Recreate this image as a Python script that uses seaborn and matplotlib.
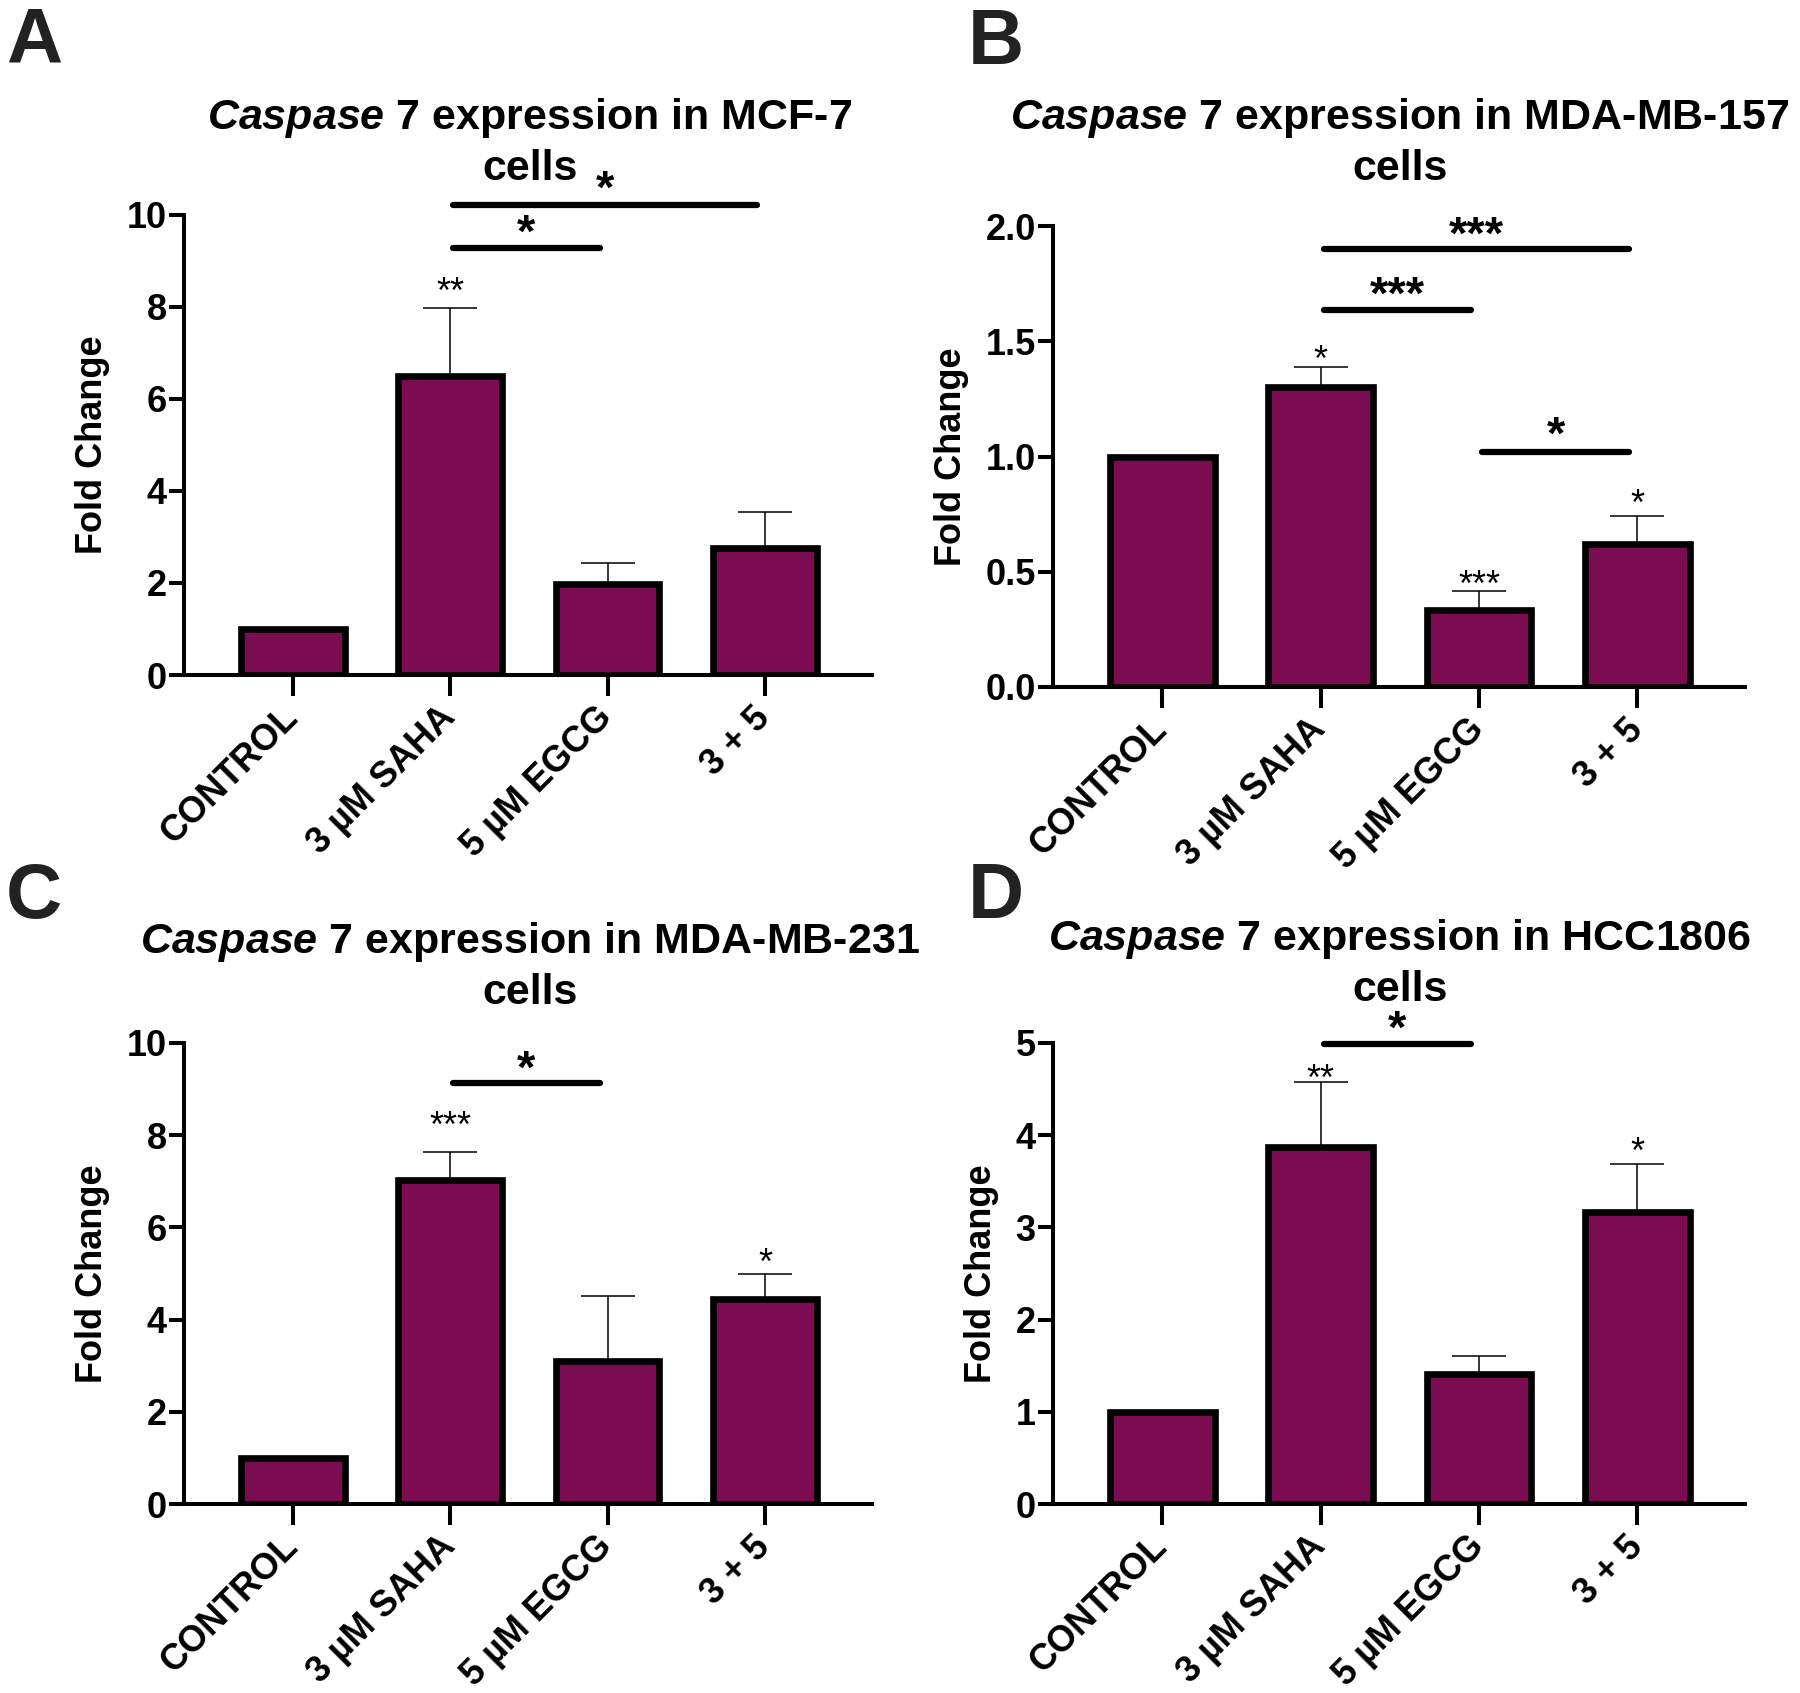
import numpy as np
import pandas as pd
import matplotlib
matplotlib.use("Agg")
import matplotlib.pyplot as plt
from matplotlib.ticker import FormatStrFormatter, MultipleLocator
import seaborn as sns

sns.set_theme(style="ticks")
plt.rcParams["font.family"] = ["Liberation Sans", "DejaVu Sans"]
plt.rcParams["font.weight"] = "bold"
plt.rcParams["mathtext.fontset"] = "custom"
plt.rcParams["mathtext.it"] = "Liberation Sans:italic:bold"
plt.rcParams["mathtext.rm"] = "Liberation Sans:bold"
plt.rcParams["mathtext.bf"] = "Liberation Sans:bold"

# ---------------- data ----------------
categories = ["CONTROL", "3 µM SAHA", "5 µM EGCG", "3 + 5"]

cells_A = "MCF-7"
means_A = [1.0, 6.50, 1.98, 2.76]
err_A = [0.0, 1.48, 0.46, 0.78]
stars_A = [(1, 8.53, "**")]
brackets_A = [(1, 2, 9.28, 9.80, "*"), (1, 3, 10.22, 10.75, "*")]

cells_B = "MDA-MB-157"
means_B = [1.0, 1.30, 0.335, 0.62]
err_B = [0.0, 0.09, 0.08, 0.12]
stars_B = [(1, 1.46, "*"), (2, 0.485, "***"), (3, 0.835, "*")]
brackets_B = [(1, 2, 1.636, 1.74, "***"), (1, 3, 1.90, 2.0, "***"), (2, 3, 1.02, 1.13, "*")]

cells_C = "MDA-MB-231"
means_C = [1.0, 7.02, 3.10, 4.45]
err_C = [0.0, 0.62, 1.42, 0.55]
stars_C = [(1, 8.40, "***"), (3, 5.44, "*")]
brackets_C = [(1, 2, 9.13, 9.63, "*")]

cells_D = "HCC1806"
means_D = [1.0, 3.87, 1.41, 3.17]
err_D = [0.0, 0.71, 0.19, 0.52]
stars_D = [(1, 4.71, "**"), (3, 3.92, "*")]
brackets_D = [(1, 2, 4.99, 5.24, "*")]

BAR = "#7B0C52"
W, H = 1800, 1693

fig = plt.figure(figsize=(W / 100, H / 100), dpi=100)


def px_rect(x0, x1, ytop, ybot):
    return [x0 / W, 1 - ybot / H, (x1 - x0) / W, (ybot - ytop) / H]


panels = [
    dict(letter="A", cells=cells_A, means=means_A, err=err_A, stars=stars_A, br=brackets_A,
         rect=px_rect(184, 872, 215, 675), ylim=10, step=2, fmt="%d",
         letter_xy=(6, 63), t1=118, t2=169, cx=530),
    dict(letter="B", cells=cells_B, means=means_B, err=err_B, stars=stars_B, br=brackets_B,
         rect=px_rect(1053, 1745, 226, 687), ylim=2.0, step=0.5, fmt="%.1f",
         letter_xy=(968, 64), t1=118, t2=169, cx=1400),
    dict(letter="C", cells=cells_C, means=means_C, err=err_C, stars=stars_C, br=brackets_C,
         rect=px_rect(184, 872, 1043, 1504), ylim=10, step=2, fmt="%d",
         letter_xy=(6, 918), t1=942, t2=993, cx=530),
    dict(letter="D", cells=cells_D, means=means_D, err=err_D, stars=stars_D, br=brackets_D,
         rect=px_rect(1053, 1745, 1043, 1504), ylim=5, step=1, fmt="%d",
         letter_xy=(968, 918), t1=939, t2=990, cx=1400),
]

SPINE_LW = 2.9
BIG = 34
SMALL = 26

for p in panels:
    ax = fig.add_axes(p["rect"])
    df = pd.DataFrame({"group": categories, "value": p["means"]})
    sns.barplot(data=df, x="group", y="value", ax=ax, color=BAR, saturation=1,
                edgecolor="black", linewidth=4.8, width=0.66, errorbar=None, zorder=3)
    idx = np.arange(len(categories))
    m = np.array(p["means"])
    e = np.array(p["err"])
    has = e > 0
    ax.errorbar(idx[has], m[has], yerr=[np.zeros(has.sum()), e[has]], fmt="none",
                ecolor="black", elinewidth=1.1, capsize=19.5, capthick=1.1, zorder=2)

    ax.set_xlim(-0.69, 3.68)
    ax.set_ylim(0, p["ylim"])
    ax.yaxis.set_major_locator(MultipleLocator(p["step"]))
    ax.yaxis.set_major_formatter(FormatStrFormatter(p["fmt"]))
    sns.despine(ax=ax)
    for s in ["left", "bottom"]:
        ax.spines[s].set_linewidth(SPINE_LW)
        ax.spines[s].set_color("black")
    ax.tick_params(axis="y", length=11, width=SPINE_LW, labelsize=26, pad=1.5, colors="black")
    ax.tick_params(axis="x", length=15, width=SPINE_LW, labelsize=26, pad=12, colors="black")
    ax.set_xticks(idx)
    ax.set_xticklabels(categories, rotation=45, ha="right", va="center", rotation_mode="anchor",
                       fontweight="bold")
    for lab in ax.get_yticklabels():
        lab.set_fontweight("bold")
    ax.set_xlabel("")
    ax.set_ylabel("Fold Change", fontsize=26, fontweight="bold", labelpad=12, color="black")

    # stars above bars
    for (i, y, s) in p["stars"]:
        ax.annotate(s, (i, y), xytext=(0, -0.57 * SMALL), textcoords="offset points",
                    ha="center", va="baseline", fontsize=SMALL, fontweight="normal",
                    color="black", annotation_clip=False)
    # comparison brackets
    for (i, j, yl, ys, s) in p["br"]:
        ax.plot([i + 0.02, j - 0.05], [yl, yl], color="black", lw=4.5,
                solid_capstyle="round", clip_on=False, zorder=4)
        ax.annotate(s, ((i + j) / 2 - 0.015, ys), xytext=(0, -0.57 * BIG + 3.3),
                    textcoords="offset points",
                    ha="center", va="baseline", fontsize=BIG, fontweight="bold",
                    color="black", annotation_clip=False)

    # titles
    fig.text(p["cx"] / W, 1 - p["t1"] / H,
             r"$\mathit{Caspase}$ 7 expression in " + p["cells"],
             ha="center", va="center", fontsize=31, fontweight="bold", color="black")
    fig.text(p["cx"] / W, 1 - p["t2"] / H, "cells",
             ha="center", va="center", fontsize=31, fontweight="bold", color="black")
    # panel letter
    lx, ly = p["letter_xy"]
    fig.text(lx / W, 1 - ly / H, p["letter"], ha="left", va="baseline",
             fontsize=56, fontweight="bold", color="#222222")

fig.savefig("out.png", dpi=100, facecolor="white")
